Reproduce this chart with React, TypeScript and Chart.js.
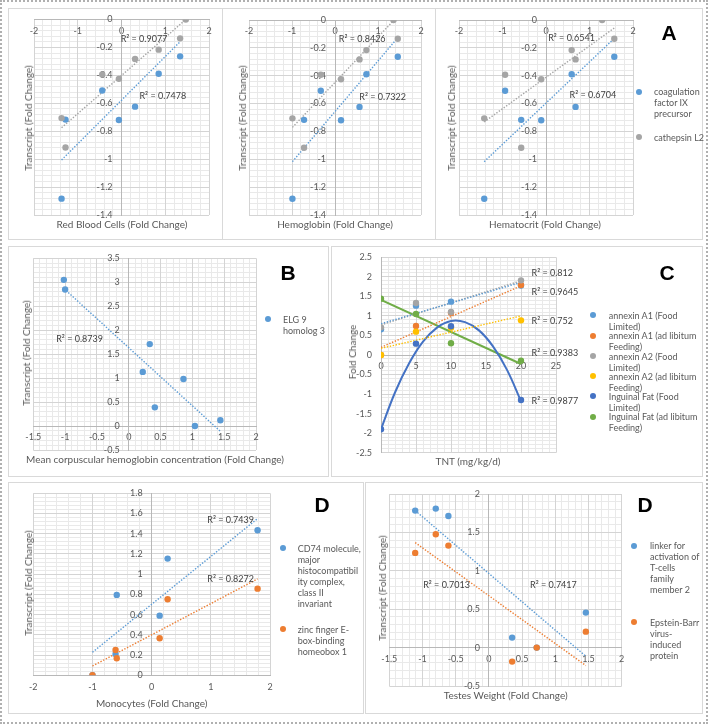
import React, { useEffect, useRef } from "react";
import { Chart, registerables } from "chart.js";

Chart.register(...registerables);

const FONT = 'Lato, "Open Sans", "DejaVu Sans", sans-serif';
const BLUE = "#5B9BD5";
const GRAY = "#A5A5A5";
const ORANGE = "#ED7D31";
const YELLOW = "#FFC000";
const DARKBLUE = "#4472C4";
const GREEN = "#70AD47";

// ================= DATA =================
// Panel A – transcript fold changes (same samples, three blood measures)
const coagFactorIX = [-1.283, -0.717, -0.508, -0.72, -0.624, -0.389, -0.264];
const cathepsinL2 = [-0.706, -0.917, -0.393, -0.425, -0.283, -0.216, -0.135, 0];
const redBloodCells = [-1.37, -1.28, -0.44, -0.06, 0.31, 0.85, 1.34, 1.47];
const hemoglobin = [-0.99, -0.72, -0.33, 0.14, 0.57, 0.73, 1.46, 1.36];
const hematocrit = [-1.42, -0.57, -0.94, -0.11, 0.68, 0.59, 1.57, 1.29];
// trendline values at the smallest and largest x of each series
const rbcCoagTrend = [-1.006, -0.159];
const rbcCathTrend = [-0.775, 0.0];
const hgbCoagTrend = [-1.017, -0.127];
const hgbCathTrend = [-0.771, 0.028];
const hctCoagTrend = [-1.017, -0.132];
const hctCathTrend = [-0.732, -0.057];
const rsqA = ["R² = 0.9077", "R² = 0.7478", "R² = 0.8426", "R² = 0.7322", "R² = 0.6541", "R² = 0.6704"];
const legendA = [["coagulation", "factor IX", "precursor"], ["cathepsin L2"]];

// Panel B
const mchc = [-1.02, -1.0, 0.33, 0.22, 0.86, 0.41, 1.04, 1.44];
const elg9 = [3.05, 2.85, 1.71, 1.13, 0.98, 0.39, 0.0, 0.12];
const elg9Trend = [2.87, -0.11];
const rsqB = ["R² = 0.8739"];
const legendB = [["ELG 9", "homolog 3"]];

// Panel C
const tntDose = [0, 5, 10, 20];
const annexinA1Limited = [0.657, 1.263, 1.365, 1.78];
const annexinA1AdLib = [0.0, 0.742, 1.08, 1.79];
const annexinA2Limited = [0.708, 1.33, 1.1, 1.91];
const annexinA2AdLib = [0.0, 0.597, 0.7, 0.887];
const fatLimited = [-1.9, 0.29, 0.734, -1.152];
const fatAdLib = [1.442, 1.05, 0.299, -0.145];
const annexinA1LimitedTrend = [0.8, 1.86];
const annexinA1AdLibTrend = [0.196, 1.77];
const annexinA2LimitedTrend = [0.77, 1.9];
const annexinA2AdLibTrend = [0.17, 1.0];
const fatAdLibTrend = [1.41, -0.23];
const fatLimitedCurveX = [0, 2, 4, 6, 8, 10, 12, 14, 16, 18, 20];
const fatLimitedCurveY = [-1.9, -0.96, -0.22, 0.34, 0.7, 0.87, 0.84, 0.63, 0.22, -0.38, -1.18];
const rsqC = ["R² = 0.812", "R² = 0.9645", "R² = 0.752", "R² = 0.9383", "R² = 0.9877"];
const legendC = [
  ["annexin A1 (Food", "Limited)"],
  ["annexin A1 (ad libitum", "Feeding)"],
  ["annexin A2 (Food", "Limited)"],
  ["annexin A2 (ad libitum", "Feeding)"],
  ["Inguinal Fat (Food", "Limited)"],
  ["Inguinal Fat (ad libitum", "Feeding)"],
];

// Panel D (monocytes)
const monocytes = [-1.0, -0.61, -0.59, 0.135, 0.27, 1.79];
const cd74 = [0.0, 0.21, 0.795, 0.59, 1.154, 1.434];
const zeb1 = [0.0, 0.25, 0.168, 0.366, 0.752, 0.857];
const cd74Trend = [0.228, 1.55];
const zeb1Trend = [0.092, 0.953];
const rsqD1 = ["R² = 0.7439", "R² = 0.8272"];
const legendD1 = [
  ["CD74 molecule,", "major", "histocompatibil", "ity complex,", "class II", "invariant"],
  ["zinc finger E-", "box-binding", "homeobox 1"],
];

// Panel D (testes)
const testesWeight = [-1.11, -0.8, -0.61, 0.35, 0.72, 1.46];
const lat2 = [1.784, 1.81, 1.714, 0.13, 0.0, 0.456];
const ebi3 = [1.233, 1.476, 1.328, -0.182, 0.0, 0.208];
const lat2Trend = [1.784, -0.113];
const ebi3Trend = [1.367, -0.234];
const rsqD2 = ["R² = 0.7013", "R² = 0.7417"];
const legendD2 = [
  ["linker for", "activation of", "T-cells", "family", "member 2"],
  ["Epstein-Barr", "virus-", "induced", "protein"],
];

// ================= HELPERS =================
type Rect = { l: number; t: number; r: number; b: number };
type AxisCfg = { min: number; max: number; step: number; minor: number };
type SeriesCfg = { x: number[]; y: number[]; color: string };
type TrendCfg = { x: number[]; y: number[]; color: string; style: "dot" | "solid" | "curve" };
type NoteCfg = { x: number; y: number; text: string };

const span = (xs: number[], n: number) => {
  const s = xs.slice(0, n);
  return [Math.min(...s), Math.max(...s)];
};
const fmt = (v: number) => String(Math.round(v * 1000) / 1000);
const isMajor = (v: number, step: number) => Math.abs(v / step - Math.round(v / step)) < 1e-6;
const minorValues = (a: AxisCfg) => {
  const n = Math.round((a.max - a.min) / a.minor);
  const out: number[] = [];
  for (let k = 0; k <= n; k++) {
    const v = Math.round((a.min + k * a.minor) * 1e6) / 1e6;
    if (!isMajor(v, a.step)) out.push(v);
  }
  return out;
};

const MAJOR_GRID = "#d4d4d4";
const MINOR_GRID = "#e9e9e9";

// minor gridlines, drawn first so the library's major grid and axes sit on top
const minorGridPlugin = {
  id: "minorGrid",
  beforeDraw(chart: any, _args: any, opts: any) {
    const { ctx, chartArea: ca, scales } = chart;
    const align = (p: number) => Math.round(p - 0.5) + 0.5;
    ctx.save();
    ctx.strokeStyle = opts.color;
    ctx.lineWidth = 1;
    ctx.beginPath();
    for (const v of opts.x || []) {
      const p = align(scales.x.getPixelForValue(v));
      ctx.moveTo(p, ca.top);
      ctx.lineTo(p, ca.bottom);
    }
    for (const v of opts.y || []) {
      const p = align(scales.y.getPixelForValue(v));
      ctx.moveTo(ca.left, p);
      ctx.lineTo(ca.right, p);
    }
    ctx.stroke();
    ctx.restore();
  },
};

const notePlugin = {
  id: "notes",
  afterDatasetsDraw(chart: any, _args: any, opts: any) {
    const { ctx, scales } = chart;
    ctx.save();
    ctx.font = `9px ${FONT}`;
    ctx.fillStyle = "#404040";
    ctx.textBaseline = "middle";
    ctx.textAlign = "left";
    for (const n of opts.items || []) {
      ctx.fillText(n.text, scales.x.getPixelForValue(n.x), scales.y.getPixelForValue(n.y));
    }
    ctx.restore();
  },
};

function ChartPanel(props: {
  plot: Rect;
  xAxis: AxisCfg;
  yAxis: AxisCfg;
  series: SeriesCfg[];
  trends: TrendCfg[];
  notes: NoteCfg[];
}) {
  const { plot, xAxis, yAxis, series, trends, notes } = props;
  const ref = useRef<HTMLCanvasElement | null>(null);
  const M = 26;
  const cl = Math.floor(plot.l) - M;
  const ct = Math.floor(plot.t) - M;
  const cw = Math.ceil(plot.r) + M - cl;
  const ch = Math.ceil(plot.b) + M - ct;

  useEffect(() => {
    const datasets: any[] = [
      ...series.map((s, i) => ({
        type: "scatter",
        data: s.y.map((y, j) => ({ x: s.x[j], y })),
        backgroundColor: s.color,
        borderColor: s.color,
        borderWidth: 0,
        pointRadius: 3.2,
        pointHoverRadius: 3.2,
        order: 50 - i,
      })),
      ...trends.map((t) => ({
        type: "scatter",
        data: t.y.map((y, j) => ({ x: t.x[j], y })),
        showLine: true,
        borderColor: t.color,
        backgroundColor: t.color,
        borderWidth: t.style === "dot" ? 1.4 : 2,
        borderDash: t.style === "dot" ? [1.4, 1.6] : [],
        pointRadius: 0,
        pointHoverRadius: 0,
        tension: t.style === "curve" ? 0.4 : 0,
        order: 100,
      })),
    ];
    const tick = { family: FONT, size: 9 };
    const chart = new Chart(ref.current as HTMLCanvasElement, {
      type: "scatter",
      data: { datasets },
      plugins: [minorGridPlugin as any, notePlugin as any],
      options: {
        animation: false,
        responsive: true,
        maintainAspectRatio: false,
        events: [],
        layout: {
          padding: {
            left: plot.l - cl,
            top: plot.t - ct,
            right: cl + cw - plot.r,
            bottom: ct + ch - plot.b,
          },
        },
        plugins: {
          legend: { display: false },
          tooltip: { enabled: false },
          notes: { items: notes },
          minorGrid: { x: minorValues(xAxis), y: minorValues(yAxis), color: MINOR_GRID },
        } as any,
        scales: {
          x: {
            type: "linear",
            min: xAxis.min,
            max: xAxis.max,
            position: { y: 0 } as any,
            ticks: {
              stepSize: xAxis.step,
              autoSkip: false,
              maxRotation: 0,
              font: tick,
              color: "#595959",
              padding: 6,
              callback: (v: any) => fmt(Number(v)),
            },
            grid: { color: MAJOR_GRID, drawTicks: false },
            border: { color: "#b8b8b8" },
          },
          y: {
            type: "linear",
            min: yAxis.min,
            max: yAxis.max,
            position: { x: 0 } as any,
            ticks: {
              stepSize: yAxis.step,
              autoSkip: false,
              font: tick,
              color: "#595959",
              // positioned axes draw labels flush to the line: pad with en spaces
              callback: (v: any) => fmt(Number(v)) + "\u2002\u2002",
            },
            grid: { color: MAJOR_GRID, drawTicks: false },
            border: { color: "#b8b8b8" },
          },
        } as any,
      },
    } as any);
    return () => chart.destroy();
  }, []);

  return (
    <div style={{ position: "absolute", left: cl, top: ct, width: cw, height: ch }}>
      <canvas ref={ref} />
    </div>
  );
}

function Box({ r }: { r: Rect }) {
  return (
    <div
      style={{
        position: "absolute",
        left: r.l,
        top: r.t,
        width: r.r - r.l,
        height: r.b - r.t,
        border: "1px solid #d9d9d9",
        boxSizing: "border-box",
        background: "#fff",
      }}
    />
  );
}

function AxisTitle({ x, y, text, vertical }: { x: number; y: number; text: string; vertical?: boolean }) {
  return (
    <div
      style={{
        position: "absolute",
        left: x,
        top: y,
        transform: `translate(-50%, -50%)${vertical ? " rotate(-90deg)" : ""}`,
        whiteSpace: "nowrap",
        font: `10px ${FONT}`,
        color: "#595959",
        lineHeight: "12px",
      }}
    >
      {text}
    </div>
  );
}

function Letter({ x, y, text }: { x: number; y: number; text: string }) {
  return (
    <div
      style={{
        position: "absolute",
        left: x,
        top: y,
        transform: "translate(-50%, -50%)",
        font: 'bold 21px "Liberation Sans", Arial, sans-serif',
        lineHeight: "24px",
        color: "#000",
      }}
    >
      {text}
    </div>
  );
}

function Legend({ mx, tx, ys, labels, colors }: { mx: number; tx: number; ys: number[]; labels: string[][]; colors: string[] }) {
  const LH = 11;
  return (
    <>
      {labels.map((lines, i) => (
        <React.Fragment key={i}>
          <div
            style={{
              position: "absolute",
              left: mx - 3.2,
              top: ys[i] - 3.2,
              width: 6.4,
              height: 6.4,
              borderRadius: "50%",
              background: colors[i],
            }}
          />
          <div
            style={{
              position: "absolute",
              left: tx,
              top: ys[i] - LH / 2,
              font: `9px ${FONT}`,
              lineHeight: `${LH}px`,
              color: "#595959",
              whiteSpace: "nowrap",
            }}
          >
            {lines.map((l, k) => (
              <div key={k}>{l}</div>
            ))}
          </div>
        </React.Fragment>
      ))}
    </>
  );
}

const axisA = { x: { min: -2, max: 2, step: 1, minor: 0.2 }, y: { min: -1.4, max: 0, step: 0.2, minor: 0.04 } };

function panelA(xs: number[], coagTrend: number[], cathTrend: number[]) {
  return {
    series: [
      { x: xs, y: coagFactorIX, color: BLUE },
      { x: xs, y: cathepsinL2, color: GRAY },
    ],
    trends: [
      { x: span(xs, coagFactorIX.length), y: coagTrend, color: BLUE, style: "dot" as const },
      { x: span(xs, cathepsinL2.length), y: cathTrend, color: GRAY, style: "dot" as const },
    ],
  };
}

export default function App() {
  const a1 = panelA(redBloodCells, rbcCoagTrend, rbcCathTrend);
  const a2 = panelA(hemoglobin, hgbCoagTrend, hgbCathTrend);
  const a3 = panelA(hematocrit, hctCoagTrend, hctCathTrend);
  const tntSpan = span(tntDose, 4);
  const monoSpan = span(monocytes, 6);
  const testSpan = span(testesWeight, 6);

  return (
    <div style={{ position: "absolute", left: 0, top: 0, width: 711, height: 724, background: "#fff", overflow: "hidden" }}>
      <div
        style={{
          position: "absolute",
          left: 0,
          top: 0,
          width: 708,
          height: 724,
          border: "2px dotted #b0b0b0",
          boxSizing: "border-box",
        }}
      />
      <Box r={{ l: 8, t: 8, r: 223, b: 240 }} />
      <Box r={{ l: 222, t: 8, r: 436, b: 240 }} />
      <Box r={{ l: 435, t: 8, r: 703, b: 240 }} />
      <Box r={{ l: 8, t: 246, r: 329, b: 477 }} />
      <Box r={{ l: 331, t: 246, r: 703, b: 477 }} />
      <Box r={{ l: 8, t: 482, r: 364, b: 714 }} />
      <Box r={{ l: 365, t: 482, r: 703, b: 714 }} />

      {/* A1 */}
      <ChartPanel
        plot={{ l: 34, t: 19.5, r: 209, b: 215 }}
        xAxis={axisA.x}
        yAxis={axisA.y}
        series={a1.series}
        trends={a1.trends}
        notes={[
          { x: -0.02, y: -0.14, text: rsqA[0] },
          { x: 0.41, y: -0.548, text: rsqA[1] },
        ]}
      />
      <AxisTitle x={28.3} y={118} text="Transcript (Fold Change)" vertical />
      <AxisTitle x={122} y={224} text="Red Blood Cells (Fold Change)" />

      {/* A2 */}
      <ChartPanel
        plot={{ l: 249, t: 20, r: 421, b: 215 }}
        xAxis={axisA.x}
        yAxis={axisA.y}
        series={a2.series}
        trends={a2.trends}
        notes={[
          { x: 0.09, y: -0.136, text: rsqA[2] },
          { x: 0.566, y: -0.55, text: rsqA[3] },
        ]}
      />
      <AxisTitle x={242.3} y={118} text="Transcript (Fold Change)" vertical />
      <AxisTitle x={335} y={224} text="Hemoglobin (Fold Change)" />

      {/* A3 */}
      <ChartPanel
        plot={{ l: 459, t: 20, r: 633, b: 215 }}
        xAxis={axisA.x}
        yAxis={axisA.y}
        series={a3.series}
        trends={a3.trends}
        notes={[
          { x: 0.05, y: -0.127, text: rsqA[4] },
          { x: 0.54, y: -0.538, text: rsqA[5] },
        ]}
      />
      <AxisTitle x={450.7} y={118} text="Transcript (Fold Change)" vertical />
      <AxisTitle x={545} y={224} text="Hematocrit (Fold Change)" />
      <Legend mx={639} tx={654} ys={[91.7, 137.3]} labels={legendA} colors={[BLUE, GRAY]} />
      <Letter x={669} y={33} text="A" />

      {/* B */}
      <ChartPanel
        plot={{ l: 33.3, t: 258.3, r: 256, b: 450 }}
        xAxis={{ min: -1.5, max: 2, step: 0.5, minor: 0.1 }}
        yAxis={{ min: -0.5, max: 3.5, step: 0.5, minor: 0.1 }}
        series={[{ x: mchc, y: elg9, color: BLUE }]}
        trends={[{ x: span(mchc, 8), y: elg9Trend, color: BLUE, style: "dot" }]}
        notes={[{ x: -1.14, y: 1.82, text: rsqB[0] }]}
      />
      <AxisTitle x={26} y={353} text="Transcript (Fold Change)" vertical />
      <AxisTitle x={155} y={459} text="Mean corpuscular hemoglobin concentration (Fold Change)" />
      <Legend mx={267.7} tx={283} ys={[319.3]} labels={legendB} colors={[BLUE]} />
      <Letter x={288} y={273} text="B" />

      {/* C */}
      <ChartPanel
        plot={{ l: 381, t: 257.3, r: 556, b: 452.7 }}
        xAxis={{ min: 0, max: 25, step: 5, minor: 1 }}
        yAxis={{ min: -2.5, max: 2.5, step: 0.5, minor: 0.1 }}
        series={[
          { x: tntDose, y: annexinA1Limited, color: BLUE },
          { x: tntDose, y: annexinA1AdLib, color: ORANGE },
          { x: tntDose, y: annexinA2Limited, color: GRAY },
          { x: tntDose, y: annexinA2AdLib, color: YELLOW },
          { x: tntDose, y: fatLimited, color: DARKBLUE },
          { x: tntDose, y: fatAdLib, color: GREEN },
        ]}
        trends={[
          { x: tntSpan, y: annexinA1LimitedTrend, color: BLUE, style: "dot" },
          { x: tntSpan, y: annexinA1AdLibTrend, color: ORANGE, style: "dot" },
          { x: tntSpan, y: annexinA2LimitedTrend, color: GRAY, style: "dot" },
          { x: tntSpan, y: annexinA2AdLibTrend, color: YELLOW, style: "dot" },
          { x: fatLimitedCurveX, y: fatLimitedCurveY, color: DARKBLUE, style: "curve" },
          { x: tntSpan, y: fatAdLibTrend, color: GREEN, style: "solid" },
        ]}
        notes={[
          { x: 21.5, y: 2.1, text: rsqC[0] },
          { x: 21.5, y: 1.61, text: rsqC[1] },
          { x: 21.5, y: 0.87, text: rsqC[2] },
          { x: 21.5, y: 0.05, text: rsqC[3] },
          { x: 21.5, y: -1.18, text: rsqC[4] },
        ]}
      />
      <AxisTitle x={351.7} y={352} text="Fold Change" vertical />
      <AxisTitle x={468} y={461} text="TNT (mg/kg/d)" />
      <Legend
        mx={592.7}
        tx={608.7}
        ys={[315, 335.7, 356, 376.3, 396.3, 416.7]}
        labels={legendC}
        colors={[BLUE, ORANGE, GRAY, YELLOW, DARKBLUE, GREEN]}
      />
      <Letter x={667} y={273} text="C" />

      {/* D1 */}
      <ChartPanel
        plot={{ l: 33.3, t: 493.3, r: 270, b: 675.3 }}
        xAxis={{ min: -2, max: 2, step: 1, minor: 0.2 }}
        yAxis={{ min: 0, max: 1.8, step: 0.2, minor: 0.04 }}
        series={[
          { x: monocytes, y: cd74, color: BLUE },
          { x: monocytes, y: zeb1, color: ORANGE },
        ]}
        trends={[
          { x: monoSpan, y: cd74Trend, color: BLUE, style: "dot" },
          { x: monoSpan, y: zeb1Trend, color: ORANGE, style: "dot" },
        ]}
        notes={[
          { x: 0.94, y: 1.536, text: rsqD1[0] },
          { x: 0.94, y: 0.95, text: rsqD1[1] },
        ]}
      />
      <AxisTitle x={27.7} y={583} text="Transcript (Fold Change)" vertical />
      <AxisTitle x={151.7} y={702.7} text="Monocytes (Fold Change)" />
      <Legend mx={282.7} tx={297.7} ys={[548.3, 629]} labels={legendD1} colors={[BLUE, ORANGE]} />
      <Letter x={322} y={505} text="D" />

      {/* D2 */}
      <ChartPanel
        plot={{ l: 389.3, t: 494, r: 621.7, b: 686 }}
        xAxis={{ min: -1.5, max: 2, step: 0.5, minor: 0.1 }}
        yAxis={{ min: -0.5, max: 2, step: 0.5, minor: 0.1 }}
        series={[
          { x: testesWeight, y: lat2, color: BLUE },
          { x: testesWeight, y: ebi3, color: ORANGE },
        ]}
        trends={[
          { x: testSpan, y: lat2Trend, color: BLUE, style: "dot" },
          { x: testSpan, y: ebi3Trend, color: ORANGE, style: "dot" },
        ]}
        notes={[
          { x: -0.99, y: 0.82, text: rsqD2[0] },
          { x: 0.62, y: 0.82, text: rsqD2[1] },
        ]}
      />
      <AxisTitle x={381.7} y={588} text="Transcript (Fold Change)" vertical />
      <AxisTitle x={505.7} y={695} text="Testes Weight (Fold Change)" />
      <Legend mx={634.3} tx={650} ys={[545.7, 622]} labels={legendD2} colors={[BLUE, ORANGE]} />
      <Letter x={645} y={505} text="D" />
    </div>
  );
}
